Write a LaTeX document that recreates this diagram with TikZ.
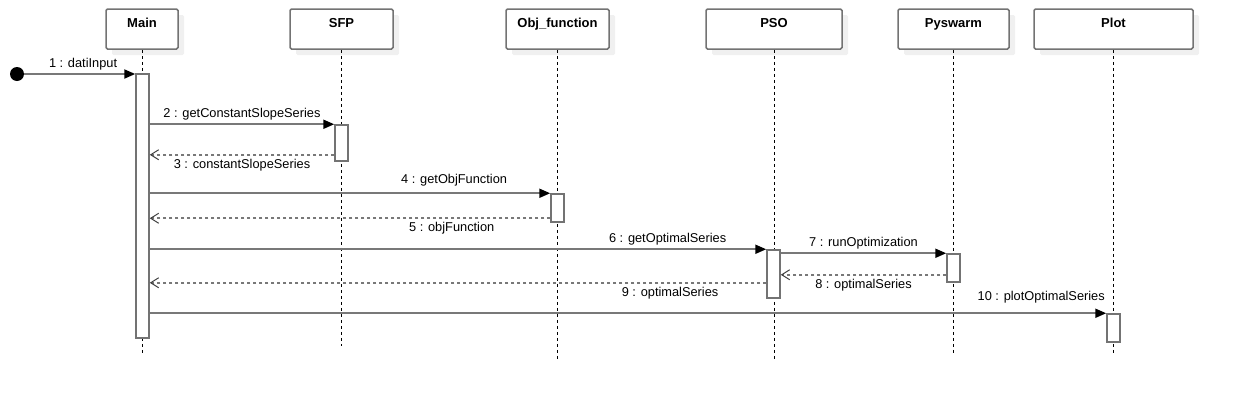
\documentclass[tikz,border=0pt]{standalone}
\usepackage{fontspec}
\setmainfont{Liberation Sans}
\usetikzlibrary{arrows.meta,shadows}

\definecolor{linegray}{RGB}{120,120,120}
\definecolor{boxgray}{RGB}{115,115,115}
\definecolor{shadowgray}{RGB}{240,240,240}

\tikzset{
  header/.style={draw=boxgray, fill=white, line width=1.5pt, rounded corners=1.5pt,
    minimum height=40pt, inner sep=0pt,
    drop shadow={shadow xshift=6pt, shadow yshift=-6pt, fill=shadowgray, opacity=1}},
  hdrtext/.style={anchor=base, yshift=-19pt, inner sep=0pt, font=\fontsize{13}{15}\selectfont\bfseries},
  lifeline/.style={draw=black, line width=0.8pt, dash pattern=on 3pt off 3pt},
  actbar/.style={draw=boxgray, fill=white, line width=1.5pt, minimum width=13pt, inner sep=0pt},
  initdot/.style={circle, fill=black, minimum size=14pt, inner sep=0pt},
  msg/.style={draw=linegray, line width=2pt, -{Triangle[length=11pt, width=9pt, color=black]}},
  ret/.style={draw=linegray, line width=2pt, dash pattern=on 3pt off 3pt,
    -{Straight Barb[length=8pt, width=10pt, line width=1pt, color=black!75]}},
  txt/.style={font=\fontsize{12.8}{15}\selectfont, inner sep=0pt, anchor=base},
  above msg/.style={txt, yshift=6.5pt},
  below msg/.style={txt, yshift=-13.5pt}
}

\begin{document}
\begin{tikzpicture}[x=1pt, y=-1pt]
  \useasboundingbox (0,0) rectangle (1233,402);

  % lifeline heads
  \node[header, minimum width=72pt, label={[hdrtext]north:Main}] (hMain) at (142,29) {};
  \node[header, minimum width=103pt, label={[hdrtext]north:SFP}] (hSFP) at (341.5,29) {};
  \node[header, minimum width=103pt, label={[hdrtext]north:Obj\_function}] (hObj) at (557.5,29) {};
  \node[header, minimum width=136pt, label={[hdrtext]north:PSO}] (hPSO) at (774,29) {};
  \node[header, minimum width=111pt, label={[hdrtext]north:Pyswarm}] (hPy) at (953.5,29) {};
  \node[header, minimum width=159pt, label={[hdrtext]north:Plot}] (hPlot) at (1113.5,29) {};

  % lifelines
  \draw[lifeline] (hMain.south) -- ++(0,304);
  \draw[lifeline] (hSFP.south) -- ++(0,296);
  \draw[lifeline] (hObj.south) -- ++(0,309);
  \draw[lifeline] (hPSO.south) -- ++(0,309);
  \draw[lifeline] (hPy.south) -- ++(0,304);
  \draw[lifeline] (hPlot.south) -- ++(0,304);

  % activations
  \node[actbar, minimum height=264pt] (aMain) at (142.5,206) {};
  \node[actbar, minimum height=36pt] (aSFP) at (341.5,143) {};
  \node[actbar, minimum height=28pt] (aObj) at (557.5,208) {};
  \node[actbar, minimum height=48pt] (aPSO) at (773.5,274) {};
  \node[actbar, minimum height=28pt] (aPy) at (953.5,268) {};
  \node[actbar, minimum height=28pt] (aPlot) at (1113.5,328) {};

  \node[initdot] (start) at (17,74) {};

  % return points
  \coordinate (r3) at ([yshift=7pt]aSFP.south west);
  \coordinate (r5) at ([yshift=4.5pt]aObj.south west);
  \coordinate (r8) at ([yshift=8pt]aPy.south west);
  \coordinate (r9) at ([yshift=16pt]aPSO.south west);

  % messages
  \draw[msg] (start) -- (start -| aMain.west) node[above msg, pos=0.53] {1 : datiInput};
  \draw[msg] (aMain.east |- aSFP.north) -- (aSFP.north west) node[above msg, pos=0.5] {2 : getConstantSlopeSeries};
  \draw[ret] (r3) -- (aMain.east |- r3) node[below msg, pos=0.5] {3 : constantSlopeSeries};
  \draw[msg] (aMain.east |- aObj.north) -- (aObj.north west) node[above msg, pos=0.76, yshift=3pt] {4 : getObjFunction};
  \draw[ret] (r5) -- (aMain.east |- r5) node[below msg, pos=0.246] {5 : objFunction};
  \draw[msg] (aMain.east |- aPSO.north) -- (aPSO.north west) node[above msg, pos=0.84] {6 : getOptimalSeries};
  \draw[msg] (aPSO.east |- aPy.north) -- (aPy.north west) node[above msg, pos=0.5] {7 : runOptimization};
  \draw[ret] (r8) -- (aPSO.east |- r8) node[below msg, pos=0.5] {8 : optimalSeries};
  \draw[ret] (r9) -- (aMain.east |- r9) node[below msg, pos=0.156] {9 : optimalSeries};
  \draw[msg] (aMain.east |- aPlot.north) -- (aPlot.north west) node[above msg, pos=0.932, yshift=6.5pt] {10 : plotOptimalSeries};
\end{tikzpicture}
\end{document}
